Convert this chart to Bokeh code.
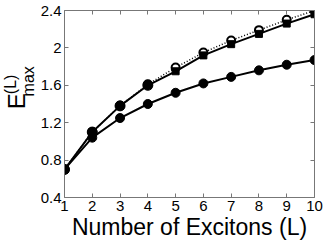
import math
from bokeh.plotting import figure
from bokeh.layouts import row
from bokeh.models import LinearAxis, Range1d, FixedTicker, Label
from bokeh.embed import file_html
from bokeh.resources import INLINE

# Data
excitons = [1, 2, 3, 4, 5, 6, 7, 8, 9, 10]
lower = [0.70, 1.04, 1.25, 1.40, 1.52, 1.62, 1.69, 1.76, 1.82, 1.87]
upper = [0.70, 1.10, 1.38, 1.60, 1.75, 1.92, 2.04, 2.15, 2.26, 2.36]
dotted = [0.70, 1.10, 1.38, 1.61, 1.79, 1.95, 2.08, 2.19, 2.30, 2.40]
x_ticks = [1, 2, 3, 4, 5, 6, 7, 8, 9, 10]
y_ticks = [0.4, 0.8, 1.2, 1.6, 2.0, 2.4]
y_tick_labels = {0.4: "0.4", 0.8: "0.8", 1.2: "1.2", 1.6: "1.6", 2.0: "2", 2.4: "2.4"}

FONT = "Liberation Sans"
AXC = "#777777"
LABEL_W = 37
TOTAL_W, TOTAL_H = 327, 243

p = figure(width=TOTAL_W - LABEL_W, height=TOTAL_H, output_backend="svg",
           toolbar_location=None,
           x_range=Range1d(1, 10), y_range=Range1d(0.4, 2.4),
           min_border_left=64 - LABEL_W, min_border_right=13, min_border_top=10,
           min_border_bottom=46)
p.grid.visible = False
p.outline_line_color = None
p.background_fill_color = "white"
p.border_fill_color = "white"

def style_axis(ax, labels=True):
    ax.axis_line_color = AXC
    ax.axis_line_width = 1
    ax.major_tick_line_color = AXC
    ax.major_tick_in = 4
    ax.major_tick_out = 0
    ax.minor_tick_line_color = None
    if labels:
        ax.major_label_text_font = FONT
        ax.major_label_text_font_size = "15px"
        ax.major_label_text_color = "black"
    else:
        ax.major_label_text_font_size = "1px"
        ax.major_label_text_color = None
        ax.major_label_standoff = 0

p.xaxis.ticker = FixedTicker(ticks=x_ticks)
p.yaxis.ticker = FixedTicker(ticks=y_ticks)
p.yaxis.major_label_overrides = y_tick_labels
style_axis(p.xaxis[0])
style_axis(p.yaxis[0])
p.xaxis.major_label_standoff = 3
p.yaxis.major_label_standoff = 3
p.xaxis.axis_label = "Number of Excitons (L)"
p.xaxis.axis_label_text_font = FONT
p.xaxis.axis_label_text_font_size = "23px"
p.xaxis.axis_label_text_font_style = "normal"
p.xaxis.axis_label_text_color = "black"
p.xaxis.axis_label_standoff = 0

top = LinearAxis(ticker=FixedTicker(ticks=x_ticks))
style_axis(top, labels=False)
right = LinearAxis(ticker=FixedTicker(ticks=y_ticks))
style_axis(right, labels=False)
p.add_layout(top, "above")
p.add_layout(right, "right")

# series
p.line(excitons, dotted, line_color="black", line_width=1.5, line_dash="1 2")
p.scatter(excitons, dotted, marker="circle", size=8, fill_color="white",
          line_color="black", line_width=2)
p.line(excitons, upper, line_color="black", line_width=2)
p.scatter(excitons, upper, marker="square", size=7, fill_color="black",
          line_color="black")
p.scatter(excitons[:4], upper[:4], marker="circle", size=10, fill_color="black",
          line_color="black")
p.line(excitons, lower, line_color="black", line_width=2)
p.scatter(excitons, lower, marker="circle", size=9, fill_color="black",
          line_color="black")

# narrow figure holding the y-axis label E^(L)_max
lab = figure(width=LABEL_W, height=TOTAL_H, output_backend="svg", toolbar_location=None,
             x_range=Range1d(0, LABEL_W), y_range=Range1d(TOTAL_H, 0),
             min_border=0, x_axis_location=None, y_axis_location=None)
lab.grid.visible = False
lab.outline_line_color = None
lab.border_fill_color = "white"

def ylab(text, x, y, size):
    lab.add_layout(Label(x=x, y=y, text=text, angle=math.pi / 2, text_font=FONT,
                         text_font_size=size, text_align="center",
                         text_baseline="middle", text_color="black"))

ylab("E", 16, 118, "24px")
ylab("(L)", 9.5, 96, "16px")
ylab("max", 27.5, 92, "16px")

layout = row(lab, p, spacing=0)
open("out.html", "w").write(file_html(layout, INLINE))
